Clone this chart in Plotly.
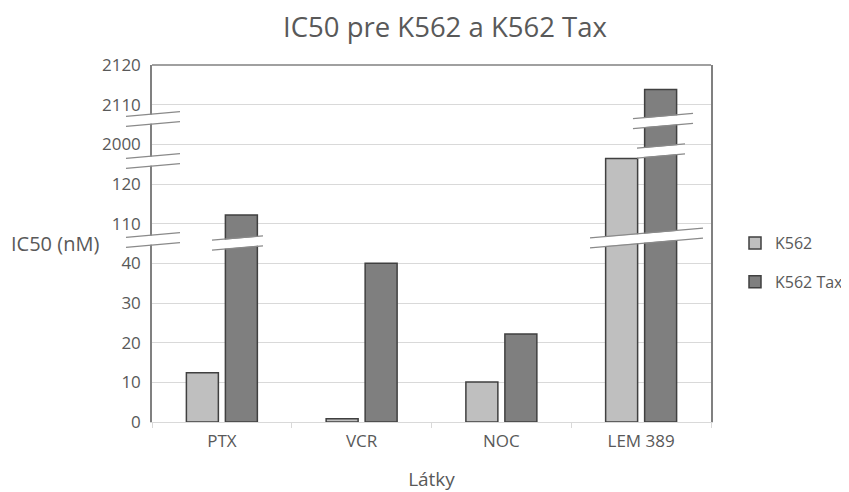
import numpy as np
import plotly.graph_objects as go

# ---------------- data ----------------
categories = ["PTX", "VCR", "NOC", "LEM 389"]
k562 = [12.4, 0.8, 10.1, 1323]
k562_tax = [112.2, 40.1, 22.2, 2113.8]
tick_values = [0, 10, 20, 30, 40, 110, 120, 2000, 2110, 2120]
tick_labels = [str(v) for v in tick_values]
series_names = ["K562", "K562 Tax"]

# ---------------- layout constants ----------------
PAGE_OFF = 8                      # default body margin of the page
W, H = 849 - PAGE_OFF, 492 - PAGE_OFF
PLOT_L, PLOT_R, PLOT_T, PLOT_B = 152, 711, 65, 422   # plot area in page pixels
ML, MT = PLOT_L - PAGE_OFF, PLOT_T - PAGE_OFF
MR = (PAGE_OFF + W) - PLOT_R
MB = (PAGE_OFF + H) - PLOT_B
PW, PH = PLOT_R - PLOT_L, PLOT_B - PLOT_T
TXT = "#595959"
GRID = "#d9d9d9"
AX = "#808080"
FONT = "Open Sans"

# broken-axis scale: each labelled tick gets one evenly spaced slot
tick_pos = np.arange(len(tick_values), dtype=float)


def broken(v):
    return np.interp(v, tick_values, tick_pos)


fig = go.Figure()
for name, vals, col in [(series_names[0], k562, "#bfbfbf"),
                        (series_names[1], k562_tax, "#7f7f7f")]:
    fig.add_trace(go.Bar(
        x=categories, y=broken(vals), name=name, customdata=vals,
        hovertemplate="%{x}: %{customdata} nM<extra>" + name + "</extra>",
        marker=dict(color=col, line=dict(color="#404040", width=1.5)),
        legendgroup=name,
    ))

# ---------------- helpers (page pixels -> plot / container coords) ----------------
def px2paper(px):
    return (px - PLOT_L) / PW


def px2cont(px):
    return (px - PAGE_OFF) / W


def py2cont(py):
    return 1 - (py - PAGE_OFF) / H


def py2y(py):
    return (PLOT_B - py) / (PH / (len(tick_values) - 1))


# ---------------- break marks (decoration) ----------------
SLOPE = 0.085   # px rise per px to the right
HALF = 5        # half distance between the two lines, px
shapes = []


def add_break(x0, x1, yc):
    xc = (x0 + x1) / 2
    ya = yc + SLOPE * (xc - x0)
    yb = yc - SLOPE * (x1 - xc)
    shapes.append(dict(type="line", xref="paper", yref="y",
                       x0=px2paper(x0), x1=px2paper(x1), y0=py2y(ya), y1=py2y(yb),
                       line=dict(color="white", width=2 * HALF - 1), layer="above"))
    for d in (-HALF, HALF):
        shapes.append(dict(type="line", xref="paper", yref="y",
                           x0=px2paper(x0), x1=px2paper(x1),
                           y0=py2y(ya + d), y1=py2y(yb + d),
                           line=dict(color="#8a8a8a", width=1.3), layer="above"))


breaks_px = [
    (126, 180, 240), (126, 180, 161), (126, 180, 119),   # axis
    (212, 263, 243),                                       # PTX Tax
    (590, 703, 238),                                       # LEM both
    (633, 693, 121), (637, 685, 151),                      # LEM Tax
]
for b in breaks_px:
    add_break(*b)

# top border
shapes.append(dict(type="line", xref="paper", yref="paper", x0=0, x1=1, y0=1, y1=1,
                   line=dict(color=AX, width=1.5), layer="above"))

fig.update_layout(
    width=W, height=H, autosize=False,
    margin=dict(l=ML, r=MR, t=MT, b=MB, pad=0, autoexpand=False),
    paper_bgcolor="white", plot_bgcolor="white",
    font=dict(family=FONT, color=TXT, size=16),
    title=dict(text="IC50 pre K562 a K562 Tax", x=px2paper(445), xref="paper",
               xanchor="center", y=py2cont(27), yanchor="middle",
               font=dict(size=27.5, color=TXT, family=FONT)),
    barmode="group", bargap=0.442, bargroupgap=0.18,
    xaxis=dict(type="category", range=[-0.5, 3.5], showline=True, linecolor=GRID,
               linewidth=1, ticks="outside", tickson="boundaries", ticklen=5,
               tickcolor=GRID, showgrid=False, ticklabelstandoff=4, automargin=False,
               tickfont=dict(size=17, color=TXT),
               title=dict(text="Látky", font=dict(size=19, color=TXT), standoff=25)),
    yaxis=dict(range=[0, len(tick_values) - 1], tickmode="array", tickvals=tick_pos,
               ticktext=tick_labels, showgrid=True, gridcolor=GRID, gridwidth=1,
               zeroline=False, showline=True, linecolor=AX, linewidth=1.5, mirror=True,
               ticks="", ticklabelstandoff=6, automargin=False,
               tickfont=dict(size=17, color=TXT)),
    legend=dict(xref="container", yref="container", x=px2cont(735), xanchor="left",
                y=py2cont(226), yanchor="top",
                font=dict(size=16, color=TXT), tracegroupgap=15, bgcolor="rgba(0,0,0,0)"),
    shapes=shapes,
    annotations=[dict(text="IC50 (nM)", xref="paper", yref="y", x=px2paper(101),
                      xanchor="right", y=py2y(243), yanchor="middle", showarrow=False,
                      font=dict(size=20, color=TXT, family=FONT))],
)

fig.write_html("out.html")
